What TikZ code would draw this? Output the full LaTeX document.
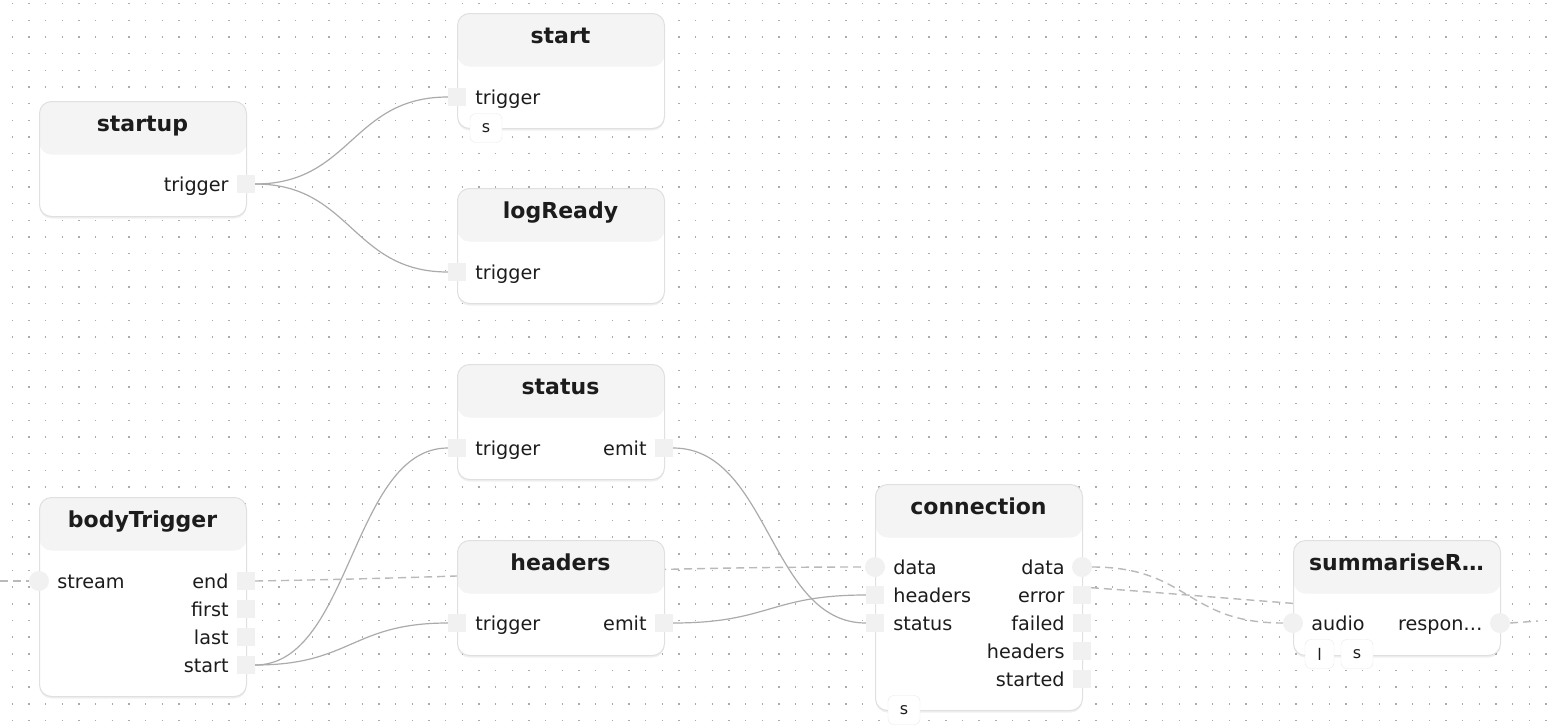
\documentclass[tikz,border=0pt]{standalone}
\usepackage{fontspec}
\setmainfont{DejaVu Sans}
\usetikzlibrary{positioning, shadows, backgrounds}

\definecolor{hdrfill}{HTML}{F4F4F4}
\definecolor{portfill}{HTML}{F1F1F1}
\definecolor{boxline}{HTML}{E0E0E0}
\definecolor{wirecol}{HTML}{ABABAB}
\definecolor{dashcol}{HTML}{B9B9B9}
\definecolor{dotcol}{HTML}{ABABAB}
\definecolor{inkcol}{HTML}{1C1C1C}

\begin{document}
\begin{tikzpicture}[x=1pt, y=-1pt,
    block/.style={draw=boxline, line width=1pt, fill=white, rounded corners=12pt, minimum width=207pt,
      minimum height=#1, anchor=north west, inner sep=0pt,
      drop shadow={shadow xshift=0pt, shadow yshift=-2pt, opacity=0.12},
      path picture={\fill[hdrfill] (path picture bounding box.north west) rectangle ([yshift=-53pt]path picture bounding box.north east);}},
    block/.default=115pt,
    ttl/.style={font=\fontsize{22}{26}\selectfont\bfseries, text=inkcol, inner sep=0pt, anchor=base},
    sqport/.style={fill=portfill, minimum size=18pt, inner sep=0pt},
    ciport/.style={circle, fill=portfill, minimum size=20pt, inner sep=0pt},
    lbl/.style={font=\fontsize{19.2}{23}\selectfont, text=inkcol, inner sep=0pt, text height=14pt, text depth=3pt, yshift=-2pt},
    badge/.style={draw=boxline!70, fill=white, rounded corners=6pt, minimum width=#1, minimum height=29pt,
      inner sep=0pt, font=\fontsize{16}{19}\selectfont, text=inkcol},
    badge/.default=32pt,
    wire/.style={draw=wirecol, line width=1.2pt},
    dwire/.style={draw=dashcol, line width=1.4pt, dash pattern=on 8pt off 5pt},
    dotrow/.style={draw=dotcol, line width=1.4pt, dash pattern=on 1.4pt off 15.27pt},
]
\useasboundingbox (0,0) rectangle (1548,726);

% Canvas and dot grid
\begin{scope}[on background layer]
\fill[white] (0,0) rectangle (1548,726);
\foreach \gy in {0,...,43}
  \draw[dotrow] (11.6,{3.7+\gy*16.67}) -- (1548,{3.7+\gy*16.67});
\end{scope}

% startup
\node[block] (startup) at (39,101) {};
\node[ttl] (startup-t) at (142.5,131) {startup};
\node[sqport] (su-trig) at (246,184) {};
\node[lbl, left=8pt of su-trig] (su-trig-l) {trigger};

% start
\node[block] (start) at (457,13) {};
\node[ttl] (start-t) at (560.5,43) {start};
\node[sqport] (st-trig) at (457,97) {};
\node[lbl, right=9pt of st-trig] (st-trig-l) {trigger};
\node[badge] (st-s) at (486,128) {s};

% logReady
\node[block] (logready) at (457,188) {};
\node[ttl] (logready-t) at (560.5,218) {logReady};
\node[sqport] (lr-trig) at (457,272) {};
\node[lbl, right=9pt of lr-trig] (lr-trig-l) {trigger};

% status
\node[block] (status) at (457,364) {};
\node[ttl] (status-t) at (560.5,394) {status};
\node[sqport] (ss-trig) at (457,448) {};
\node[lbl, right=9pt of ss-trig] (ss-trig-l) {trigger};
\node[sqport] (ss-emit) at (664,448) {};
\node[lbl, left=8pt of ss-emit] (ss-emit-l) {emit};

% bodyTrigger
\node[block=199pt] (bodytrig) at (39,497) {};
\node[ttl] (bodytrig-t) at (142.5,527) {bodyTrigger};
\node[ciport] (bt-stream) at (39,581) {};
\node[lbl, right=8pt of bt-stream] (bt-stream-l) {stream};
\node[sqport] (bt-end) at (246,581) {};
\node[lbl, left=8pt of bt-end] (bt-end-l) {end};
\node[sqport] (bt-first) at (246,609) {};
\node[lbl, left=8pt of bt-first] (bt-first-l) {first};
\node[sqport] (bt-last) at (246,637) {};
\node[lbl, left=8pt of bt-last] (bt-last-l) {last};
\node[sqport] (bt-start) at (246,665) {};
\node[lbl, left=8pt of bt-start] (bt-start-l) {start};

% headers
\node[block] (headers) at (457,540) {};
\node[ttl] (headers-t) at (560.5,570) {headers};
\node[sqport] (hd-trig) at (457,623) {};
\node[lbl, right=9pt of hd-trig] (hd-trig-l) {trigger};
\node[sqport] (hd-emit) at (664,623) {};
\node[lbl, left=8pt of hd-emit] (hd-emit-l) {emit};

% connection
\node[block=226pt] (conn) at (875,484) {};
\node[ttl] (conn-t) at (978.5,514) {connection};
\node[ciport] (cn-din) at (875,567) {};
\node[lbl, right=8pt of cn-din] (cn-din-l) {data};
\node[sqport] (cn-hin) at (875,595) {};
\node[lbl, right=9pt of cn-hin] (cn-hin-l) {headers};
\node[sqport] (cn-sin) at (875,623) {};
\node[lbl, right=9pt of cn-sin] (cn-sin-l) {status};
\node[ciport] (cn-dout) at (1082,567) {};
\node[lbl, left=7pt of cn-dout] (cn-dout-l) {data};
\node[sqport] (cn-err) at (1082,595) {};
\node[lbl, left=8pt of cn-err] (cn-err-l) {error};
\node[sqport] (cn-fail) at (1082,623) {};
\node[lbl, left=8pt of cn-fail] (cn-fail-l) {failed};
\node[sqport] (cn-hout) at (1082,651) {};
\node[lbl, left=8pt of cn-hout] (cn-hout-l) {headers};
\node[sqport] (cn-start) at (1082,679) {};
\node[lbl, left=8pt of cn-start] (cn-start-l) {started};
\node[badge] (cn-s) at (904,710) {s};

% summariseR...
\node[block] (summ) at (1293,540) {};
\node[ttl] (summ-t) at (1396.5,570) {summariseR…};
\node[ciport] (sm-audio) at (1293,623) {};
\node[lbl, right=8pt of sm-audio] (sm-audio-l) {audio};
\node[ciport] (sm-resp) at (1500,623) {};
\node[lbl, left=7pt of sm-resp] (sm-resp-l) {respon…};
\node[badge=29pt] (sm-l) at (1319.5,654) {l};
\node[badge] (sm-s) at (1357,654) {s};

% free ends
\coordinate (in-stream) at (0,581);
\coordinate (out-resp) at (1538,621);
\coordinate (hid-a) at (1000,582);
\coordinate (hid-b) at (1450,614);

% Wires
\begin{scope}[on background layer]
\draw[wire] (su-trig.east) .. controls +(96,0) and +(-96,0) .. (st-trig.west);
\draw[wire] (su-trig.east) .. controls +(96,0) and +(-96,0) .. (lr-trig.west);
\draw[wire] (bt-start.east) .. controls +(96,0) and +(-96,0) .. (ss-trig.west);
\draw[wire] (bt-start.east) .. controls +(96,0) and +(-96,0) .. (hd-trig.west);
\draw[wire] (ss-emit.east) .. controls +(96,0) and +(-96,0) .. (cn-sin.west);
\draw[wire] (hd-emit.east) .. controls +(96,0) and +(-96,0) .. (cn-hin.west);
\draw[dwire] (in-stream) -- (bt-stream.west);
\draw[dwire] (bt-end.east) .. controls +(250,-4) and +(-250,0) .. (cn-din.west);
\draw[dwire] (cn-dout.east) .. controls +(97,0) and +(-97,0) .. (sm-audio.west);
\draw[dwire] (hid-a) .. controls +(150,8) and +(-150,-8) .. (hid-b);
\draw[dwire] (sm-resp.east) -- (out-resp);
\end{scope}

\end{tikzpicture}
\end{document}
